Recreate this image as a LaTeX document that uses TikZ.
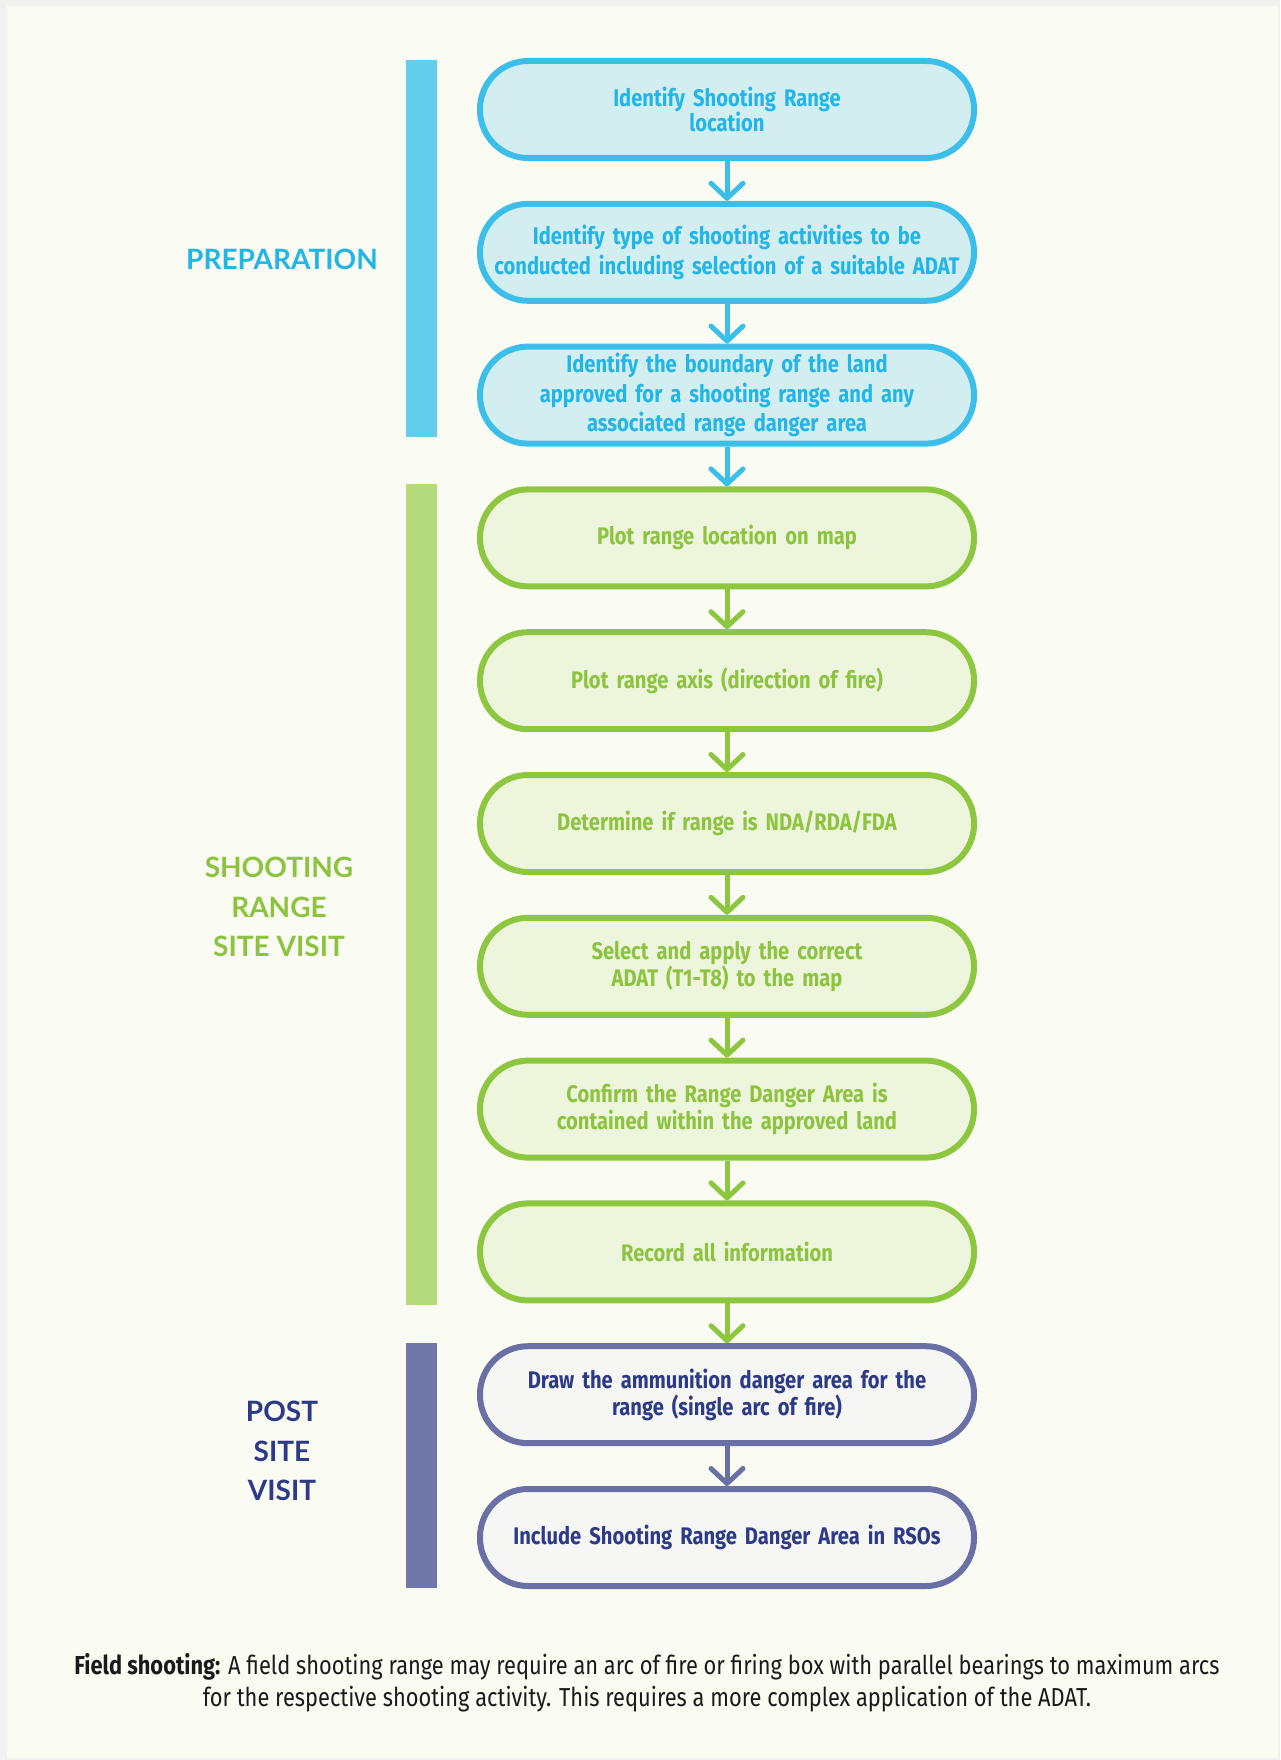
\documentclass[tikz,border=0pt]{standalone}
\usepackage{fontspec}
\setmainfont{Fira Sans}[FakeStretch=0.84]
\newfontfamily\labelfont{Lato}
\usetikzlibrary{arrows.meta}
\definecolor{bgborder}{HTML}{F1F1EF}
\definecolor{bgcream}{HTML}{FAFBF3}
\definecolor{cyanS}{HTML}{3BBFEA}
\definecolor{cyanF}{HTML}{D3EEF1}
\definecolor{cyanT}{HTML}{22B5E8}
\definecolor{cyanBar}{HTML}{65CDEC}
\definecolor{greenS}{HTML}{8DC63F}
\definecolor{greenF}{HTML}{EEF5DD}
\definecolor{greenT}{HTML}{8CC43F}
\definecolor{greenBar}{HTML}{B4DA7C}
\definecolor{purpS}{HTML}{6A6FA6}
\definecolor{purpF}{HTML}{F6F6F5}
\definecolor{purpT}{HTML}{2D3A87}
\definecolor{purpBar}{HTML}{7277A9}
\definecolor{footT}{HTML}{1A1A1A}
\begin{document}
\begin{tikzpicture}[x=1pt,y=-1pt,
  box/.style={draw, line width=6pt, rounded corners=48pt, minimum width=494pt,
    minimum height=97pt, inner sep=0pt, text width=480pt, align=center,
    font=\bfseries\fontsize{24}{27}\selectfont},
  tallbox/.style={box, font=\bfseries\fontsize{24}{29.5}\selectfont},
  tightbox/.style={box, font=\bfseries\fontsize{24}{23.5}\selectfont},
  cyanbox/.style={draw=cyanS, fill=cyanF, text=cyanT},
  greenbox/.style={draw=greenS, fill=greenF, text=greenT},
  purpbox/.style={draw=purpS, fill=purpF, text=purpT},
  flow/.style={line width=5pt, -{Straight Barb[length=15pt,width=32pt,round]}},
  sidelabel/.style={font=\labelfont\bfseries\fontsize{28}{39.5}\selectfont, align=center}
]
\useasboundingbox (0,0) rectangle (1280,1760);
\fill[bgborder] (0,0) rectangle (1280,1760);
\fill[bgcream] (7,6) rectangle (1278,1758);

% side bars
\fill[cyanBar] (406,60) rectangle (437,437);
\fill[greenBar] (406,484) rectangle (437,1305);
\fill[purpBar] (406,1343) rectangle (437,1588);

% side labels
\node[sidelabel, text=cyanT] (lprep) at (282,259) {PREPARATION};
\node[sidelabel, text=greenT] (lsite) at (279,907) {SHOOTING\\RANGE\\SITE VISIT};
\node[sidelabel, text=purpT] (lpost) at (282,1451) {POST\\SITE\\VISIT};

% boxes
\node[tightbox, cyanbox] (b1) at (727,109.5) {Identify Shooting Range\\location};
\node[tallbox, cyanbox] (b2) at (727,252.3) {Identify type of shooting activities to be\\conducted including selection of a suitable ADAT};
\node[tallbox, cyanbox] (b3) at (727,395.1) {Identify the boundary of the land\\approved for a shooting range and any\\associated range danger area};
\node[box, greenbox] (b4) at (727,537.9) {Plot range location on map};
\node[box, greenbox] (b5) at (727,680.7) {Plot range axis (direction of fire)};
\node[box, greenbox] (b6) at (727,823.5) {Determine if range is NDA/RDA/FDA};
\node[box, greenbox] (b7) at (727,966.3) {Select and apply the correct\\ADAT (T1-T8) to the map};
\node[box, greenbox] (b8) at (727,1109.1) {Confirm the Range Danger Area is\\contained within the approved land};
\node[box, greenbox] (b9) at (727,1251.9) {Record all information};
\node[box, purpbox] (b10) at (727,1394.7) {Draw the ammunition danger area for the\\range (single arc of fire)};
\node[box, purpbox] (b11) at (727,1537.5) {Include Shooting Range Danger Area in RSOs};

% connectors
\draw[flow, cyanS] (b1.south) -- (b2.north);
\draw[flow, cyanS] (b2.south) -- (b3.north);
\draw[flow, cyanS] (b3.south) -- (b4.north);
\draw[flow, greenS] (b4.south) -- (b5.north);
\draw[flow, greenS] (b5.south) -- (b6.north);
\draw[flow, greenS] (b6.south) -- (b7.north);
\draw[flow, greenS] (b7.south) -- (b8.north);
\draw[flow, greenS] (b8.south) -- (b9.north);
\draw[flow, greenS] (b9.south) -- (b10.north);
\draw[flow, purpS] (b10.south) -- (b11.north);

% footer
\node[text=footT, align=center, font=\fontsize{26}{32}\selectfont] (foot) at (647,1683)
  {\textbf{Field shooting:} A field shooting range may require an arc of fire or firing box with parallel bearings to maximum arcs\\for the respective shooting activity. This requires a more complex application of the ADAT.};
\end{tikzpicture}
\end{document}
